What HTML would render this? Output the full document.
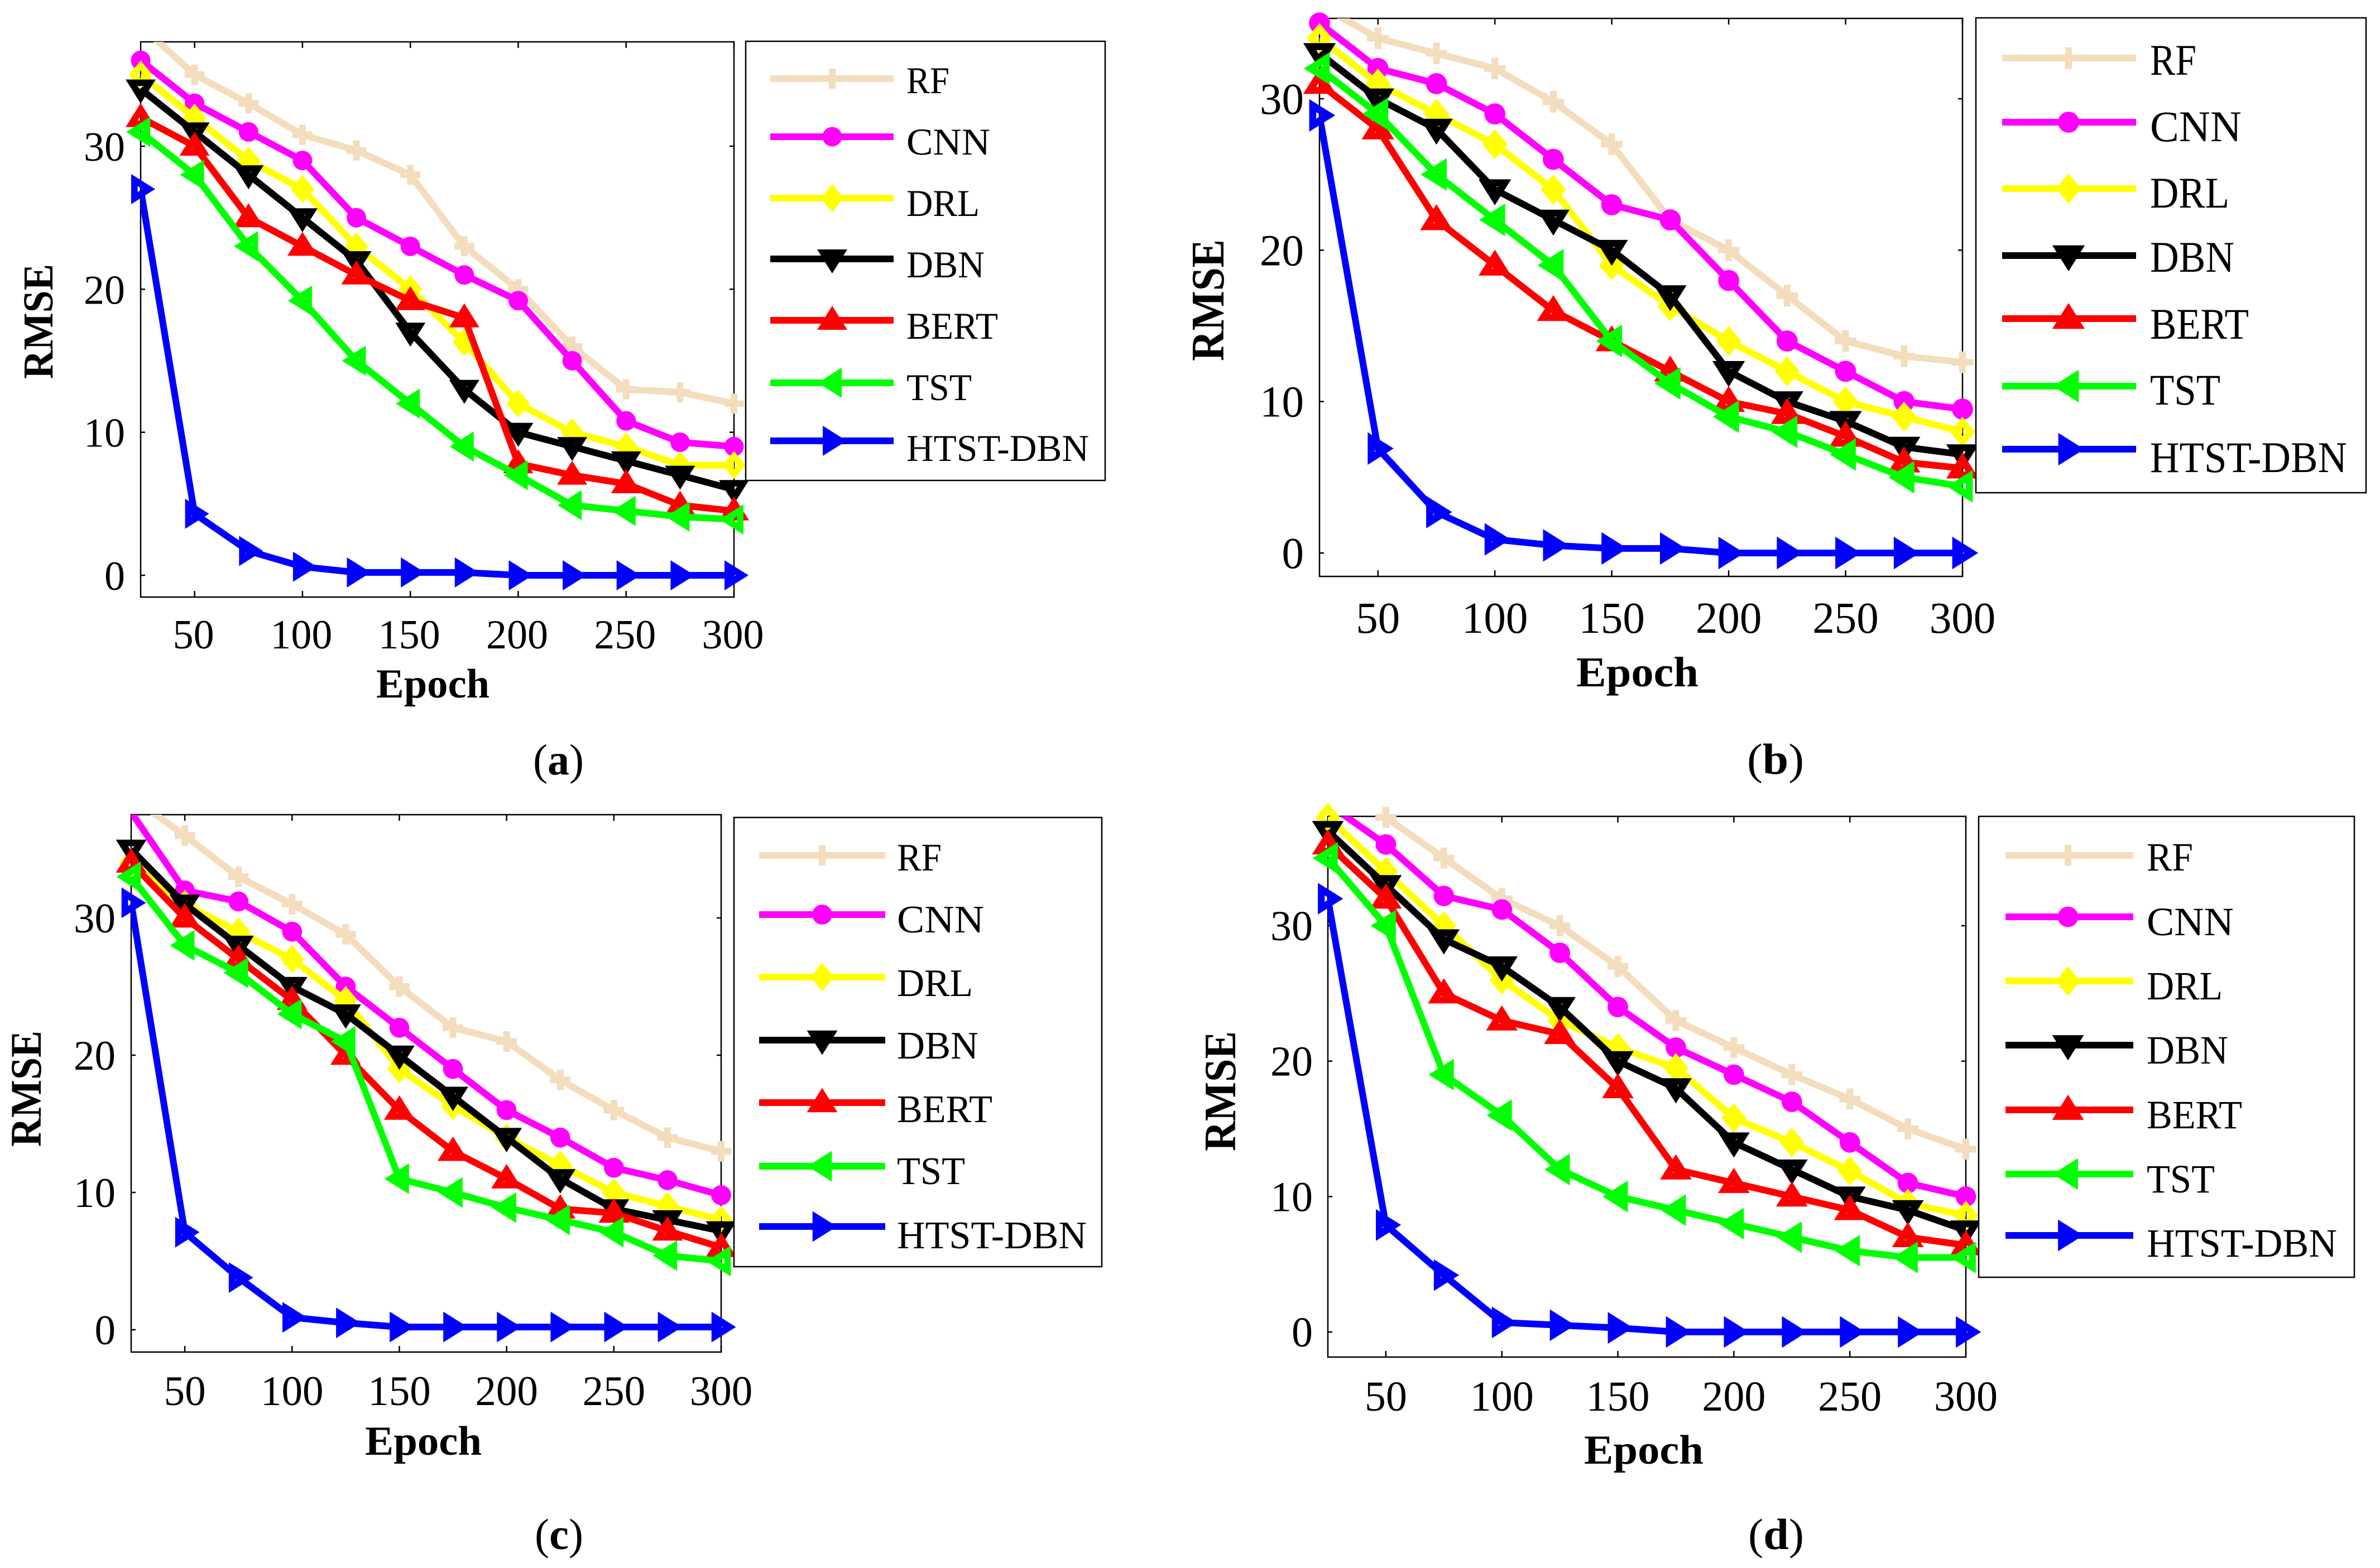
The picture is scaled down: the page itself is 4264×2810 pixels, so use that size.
<!DOCTYPE html>
<html lang="en">
<head>
<meta charset="utf-8">
<title>RMSE versus epoch for four datasets</title>
<style>
html,body{margin:0;padding:0;background:#fff}
svg{display:block}
text{font-family:"Liberation Serif",serif;fill:#000}
.b{font-weight:bold}
</style>
</head>
<body>
<svg id="fig" xmlns="http://www.w3.org/2000/svg" width="4264" height="2810" viewBox="0 0 4264 2810">
<rect x="0" y="0" width="4264" height="2810" fill="#fff"/>

<g id="panel-a">
  <g id="plot-a"></g>
  <text class="b" x="674" y="1250" font-size="74" textLength="203" lengthAdjust="spacingAndGlyphs">Epoch</text>
  <text class="b" transform="translate(94,679) rotate(-90)" font-size="76" textLength="206" lengthAdjust="spacingAndGlyphs">RMSE</text>
  <text x="955" y="1388" font-size="78" textLength="91" lengthAdjust="spacingAndGlyphs">(<tspan class="b">a</tspan>)</text>
  <g id="legend-a">
    <rect x="1336" y="74" width="644" height="787" fill="#fff" stroke="#000" stroke-width="2.5"/>
    <g id="samples-a"></g>
    <g font-size="68">
      <text x="1624" y="167" textLength="77" lengthAdjust="spacingAndGlyphs">RF</text>
      <text x="1624" y="277" textLength="150" lengthAdjust="spacingAndGlyphs">CNN</text>
      <text x="1624" y="387" textLength="131" lengthAdjust="spacingAndGlyphs">DRL</text>
      <text x="1624" y="497" textLength="140" lengthAdjust="spacingAndGlyphs">DBN</text>
      <text x="1624" y="607" textLength="164" lengthAdjust="spacingAndGlyphs">BERT</text>
      <text x="1624" y="717" textLength="117" lengthAdjust="spacingAndGlyphs">TST</text>
      <text x="1624" y="826" textLength="327" lengthAdjust="spacingAndGlyphs">HTST-DBN</text>
    </g>
  </g>
</g>

<g id="panel-b">
  <g id="plot-b"></g>
  <text class="b" x="2824" y="1230" font-size="76" textLength="219" lengthAdjust="spacingAndGlyphs">Epoch</text>
  <text class="b" transform="translate(2192,647) rotate(-90)" font-size="84" textLength="218" lengthAdjust="spacingAndGlyphs">RMSE</text>
  <text x="3130" y="1387" font-size="78" textLength="102" lengthAdjust="spacingAndGlyphs">(<tspan class="b">b</tspan>)</text>
  <g id="legend-b">
    <rect x="3540" y="32" width="699" height="851" fill="#fff" stroke="#000" stroke-width="2.5"/>
    <g id="samples-b"></g>
    <g font-size="78">
      <text x="3852" y="134" textLength="83" lengthAdjust="spacingAndGlyphs">RF</text>
      <text x="3852" y="253" textLength="164" lengthAdjust="spacingAndGlyphs">CNN</text>
      <text x="3852" y="372" textLength="142" lengthAdjust="spacingAndGlyphs">DRL</text>
      <text x="3852" y="487" textLength="151" lengthAdjust="spacingAndGlyphs">DBN</text>
      <text x="3852" y="607" textLength="177" lengthAdjust="spacingAndGlyphs">BERT</text>
      <text x="3852" y="725" textLength="126" lengthAdjust="spacingAndGlyphs">TST</text>
      <text x="3852" y="846" textLength="353" lengthAdjust="spacingAndGlyphs">HTST-DBN</text>
    </g>
  </g>
</g>

<g id="panel-c">
  <g id="plot-c"></g>
  <text class="b" x="654" y="2607" font-size="74" textLength="209" lengthAdjust="spacingAndGlyphs">Epoch</text>
  <text class="b" transform="translate(73,2055) rotate(-90)" font-size="78" textLength="208" lengthAdjust="spacingAndGlyphs">RMSE</text>
  <text x="958" y="2776" font-size="78" textLength="87" lengthAdjust="spacingAndGlyphs">(<tspan class="b">c</tspan>)</text>
  <g id="legend-c">
    <rect x="1315" y="1465" width="659" height="805" fill="#fff" stroke="#000" stroke-width="2.5"/>
    <g id="samples-c"></g>
    <g font-size="70">
      <text x="1607" y="1560" textLength="80" lengthAdjust="spacingAndGlyphs">RF</text>
      <text x="1607" y="1671" textLength="156" lengthAdjust="spacingAndGlyphs">CNN</text>
      <text x="1607" y="1785" textLength="136" lengthAdjust="spacingAndGlyphs">DRL</text>
      <text x="1607" y="1897" textLength="146" lengthAdjust="spacingAndGlyphs">DBN</text>
      <text x="1607" y="2011" textLength="171" lengthAdjust="spacingAndGlyphs">BERT</text>
      <text x="1607" y="2122" textLength="122" lengthAdjust="spacingAndGlyphs">TST</text>
      <text x="1607" y="2237" textLength="340" lengthAdjust="spacingAndGlyphs">HTST-DBN</text>
    </g>
  </g>
</g>

<g id="panel-d">
  <g id="plot-d"></g>
  <text class="b" x="2838" y="2623" font-size="74" textLength="214" lengthAdjust="spacingAndGlyphs">Epoch</text>
  <text class="b" transform="translate(2213,2063) rotate(-90)" font-size="80" textLength="215" lengthAdjust="spacingAndGlyphs">RMSE</text>
  <text x="3132" y="2776" font-size="78" textLength="100" lengthAdjust="spacingAndGlyphs">(<tspan class="b">d</tspan>)</text>
  <g id="legend-d">
    <rect x="3545" y="1463" width="673" height="826" fill="#fff" stroke="#000" stroke-width="2.5"/>
    <g id="samples-d"></g>
    <g font-size="72">
      <text x="3846" y="1560" textLength="83" lengthAdjust="spacingAndGlyphs">RF</text>
      <text x="3846" y="1676" textLength="156" lengthAdjust="spacingAndGlyphs">CNN</text>
      <text x="3846" y="1791" textLength="136" lengthAdjust="spacingAndGlyphs">DRL</text>
      <text x="3846" y="1906" textLength="146" lengthAdjust="spacingAndGlyphs">DBN</text>
      <text x="3846" y="2022" textLength="171" lengthAdjust="spacingAndGlyphs">BERT</text>
      <text x="3846" y="2137" textLength="122" lengthAdjust="spacingAndGlyphs">TST</text>
      <text x="3846" y="2252" textLength="341" lengthAdjust="spacingAndGlyphs">HTST-DBN</text>
    </g>
  </g>
</g>
</svg>

<script>
// ---- data ----
const epochs = [25,50,75,100,125,150,175,200,225,250,275,300];
const xTickLabels = [50,100,150,200,250,300];
const yTickLabels = [0,10,20,30];
const seriesNames = ['rf','cnn','drl','dbn','bert','tst','htst-dbn'];

const rfA   = [38.4,35,33,30.8,29.7,28,23,20,16,13,12.8,12];
const cnnA  = [36,33,31,29,25,23,21,19.2,15,10.8,9.3,9];
const drlA  = [35,32,29,27,23,20,16.3,12,10,9,7.7,7.7];
const dbnA  = [34,31,28,25,22,17,13,10,9,8,7,6];
const bertA = [32,30,25,23,21,19.2,18,7.8,7,6.4,4.9,4.5];
const tstA  = [31,28,23,19.2,15,12,9,7,4.9,4.5,4.1,3.9];
const htstA = [27,4.3,1.7,0.6,0.2,0.2,0.2,0,0,0,0,0];

const rfB   = [36.2,34,33,32,29.8,27,22,20,17,14,13,12.6];
const cnnB  = [35,32,31,29,26,23,22,18,14,12,10,9.5];
const drlB  = [34,31,29,27,24,19,16.3,14,12,10,9,8];
const dbnB  = [33,30,28,24,22,20,17,12,10,8.7,7,6.5];
const bertB = [31,28,22,19,16,14,12,10,9.2,7.7,6,5.6];
const tstB  = [32,29,25,22,19,14,11.2,9,8,6.5,5,4.4];
const htstB = [28.9,6.9,2.7,0.9,0.5,0.3,0.3,0,0,0,0,0];

const rfC   = [38.8,36,33,31,28.8,25,22,21,18.2,16,14,13];
const cnnC  = [37.7,32,31.2,29,25,22,19,16,14,11.8,10.9,9.8];
const drlC  = [34,31,29,27,24,19,16.3,14,12,10,9,8];
const dbnC  = [35,31,28,25,23,20,17,14,11,8.8,8,7.2];
const bertC = [34,30,27,24,20,16,13,11,8.8,8.5,7.2,6];
const tstC  = [33,28,26,23,21,11,10,8.9,8,7.1,5.4,5];
const htstC = [31.1,7.1,3.8,0.9,0.5,0.2,0.2,0.2,0.2,0.2,0.2,0.2];

const rfD   = [40,38,35,32,30,27,23,21,19,17.2,15,13.5];
const cnnD  = [39,36,32.2,31.2,28,24,21,19,17,14,11,10];
const drlD  = [38,34,30,26,23,21,19.5,15.8,14,11.9,9.5,8.6];
const dbnD  = [37,33,29,27,24,20,18,14,12,10,9,7.5];
const bertD = [36,32,25,23,22,18,12,11,10,9,7,6.4];
const tstD  = [35,30,19,16,12,10,9,8,7,6,5.5,5.5];
const htstD = [32,7.9,4.2,0.7,0.5,0.3,0,0,0,0,0,0];

// ---- layout ----
const colors = ['#f3ddbd','#ff00ff','#ffff00','#000000','#ff0000','#00ff00','#0000ff'];
const markerKinds = ['plus','circle','diamond','down','up','left','right'];
const frames = [
  {id:'a', l:252,  r:1315, t:75,   b:1070, y0:1031,  y30:262,  m:1,    fs:74, lx:-2, xBase:1162, yRight:224,  yOff:26, sx0:1380, sx1:1601, sm:1491, rows:[141,245,355,464,574,686,790],  series:[rfA,cnnA,drlA,dbnA,bertA,tstA,htstA]},
  {id:'b', l:2364, r:3516, t:33,   b:1033, y0:991,   y30:177,  m:1.08, fs:79, lx:0,  xBase:1134, yRight:2336, yOff:27, sx0:3587, sx1:3827, sm:3706, rows:[104,219,338,458,571,692,805],  series:[rfB,cnnB,drlB,dbnB,bertB,tstB,htstB]},
  {id:'c', l:235,  r:1292, t:1460, b:2423, y0:2383,  y30:1645, m:1.02, fs:75, lx:0,  xBase:2518, yRight:207,  yOff:26, sx0:1360, sx1:1586, sm:1473, rows:[1533,1639,1751,1864,1976,2090,2198], series:[rfC,cnnC,drlC,dbnC,bertC,tstC,htstC]},
  {id:'d', l:2379, r:3522, t:1463, b:2432, y0:2387,  y30:1659, m:1.05, fs:76, lx:0,  xBase:2528, yRight:2352, yOff:26, sx0:3593, sx1:3822, sm:3705, rows:[1533,1643,1758,1873,1989,2104,2214], series:[rfD,cnnD,drlD,dbnD,bertD,tstD,htstD]}
];
const NS = 'http://www.w3.org/2000/svg';
const LINE_W = 12;

function poly(pts){
  return 'M' + pts.map(p => p[0].toFixed(1) + ' ' + p[1].toFixed(1)).join('L') + 'Z';
}
function withHole(pts, cx, cy, s){
  const hole = pts.map(p => [cx + (p[0]-cx)*s, cy + (p[1]-cy)*s]);
  return poly(pts) + poly(hole);
}
function markerPath(kind, m){
  const w = 27*m, f = 17*m, t = 26*m;
  if (kind === 'plus') {
    const a = 18*m, h = 6;
    return poly([[-h,-a],[h,-a],[h,-h],[a,-h],[a,h],[h,h],[h,a],[-h,a],[-h,h],[-a,h],[-a,-h],[-h,-h]]);
  }
  if (kind === 'circle') {
    const r = 17.5*m;
    return 'M' + (-r) + ' 0A' + r + ' ' + r + ' 0 1 0 ' + r + ' 0A' + r + ' ' + r + ' 0 1 0 ' + (-r) + ' 0Z';
  }
  if (kind === 'diamond') return withHole([[0,-25*m],[21*m,0],[0,25*m],[-21*m,0]], 0, 0, 0.28);
  if (kind === 'down')  return withHole([[-w,-f],[w,-f],[0,t]], 0, -f*0.15, 0.2);
  if (kind === 'up')    return withHole([[-w,f],[w,f],[0,-t]], 0, f*0.15, 0.2);
  if (kind === 'left')  return withHole([[f,-w],[f,w],[-t,0]], f*0.15, 0, 0.2);
  return withHole([[-f,-w],[-f,w],[t,0]], -f*0.15, 0, 0.2);
}
function xScale(fr, v){ return fr.l + (v - epochs[0]) / (epochs[epochs.length-1] - epochs[0]) * (fr.r - fr.l); }
function yScale(fr, v){ return fr.y0 - v * (fr.y0 - fr.y30) / 30; }

const defs = document.createElementNS(NS, 'defs');
document.getElementById('fig').appendChild(defs);

frames.forEach(function(fr){
  const plot = document.getElementById('plot-' + fr.id);

  const cp = document.createElementNS(NS, 'clipPath');
  cp.setAttribute('id', 'clip-' + fr.id);
  const cr = document.createElementNS(NS, 'rect');
  cr.setAttribute('x', fr.l);
  cr.setAttribute('y', fr.t);
  cr.setAttribute('width', fr.r - fr.l);
  cr.setAttribute('height', fr.b - fr.t);
  cp.appendChild(cr);
  defs.appendChild(cp);

  const box = document.createElementNS(NS, 'rect');
  
  
  box.setAttribute('x', fr.l);
  box.setAttribute('y', fr.t);
  box.setAttribute('width', fr.r - fr.l);
  box.setAttribute('height', fr.b - fr.t);
  box.setAttribute('fill', 'none');
  box.setAttribute('stroke', '#000');
  box.setAttribute('stroke-width', '2.5');
  plot.appendChild(box);

  xTickLabels.forEach(function(v){
    const x = xScale(fr, v);
    [[fr.b, fr.b - 11], [fr.t, fr.t + 11]].forEach(function(ends){
      const tk = document.createElementNS(NS, 'line');
      
      
      tk.setAttribute('x1', x);
      tk.setAttribute('x2', x);
      tk.setAttribute('y1', ends[0]);
      tk.setAttribute('y2', ends[1]);
      tk.setAttribute('stroke', '#000');
      tk.setAttribute('stroke-width', '2.5');
      plot.appendChild(tk);
    });
    const lab = document.createElementNS(NS, 'text');
    
    
    lab.setAttribute('x', x + fr.lx);
    lab.setAttribute('y', fr.xBase);
    lab.setAttribute('font-size', fr.fs);
    lab.setAttribute('text-anchor', 'middle');
    lab.textContent = String(v);
    plot.appendChild(lab);
  });

  yTickLabels.forEach(function(v){
    const y = yScale(fr, v);
    [[fr.l, fr.l + 8], [fr.r, fr.r - 8]].forEach(function(ends){
      const tk = document.createElementNS(NS, 'line');
      
      
      tk.setAttribute('x1', ends[0]);
      tk.setAttribute('x2', ends[1]);
      tk.setAttribute('y1', y);
      tk.setAttribute('y2', y);
      tk.setAttribute('stroke', '#000');
      tk.setAttribute('stroke-width', '2.5');
      plot.appendChild(tk);
    });
    const lab = document.createElementNS(NS, 'text');
    
    
    lab.setAttribute('x', fr.yRight);
    lab.setAttribute('y', y + fr.yOff);
    lab.setAttribute('font-size', fr.fs);
    lab.setAttribute('text-anchor', 'end');
    lab.textContent = String(v);
    plot.appendChild(lab);
  });

  fr.series.forEach(function(values, si){
    const group = document.createElementNS(NS, 'g');
    
    

    const line = document.createElementNS(NS, 'polyline');
    
    
    line.setAttribute('points', values.map(function(v, i){ return xScale(fr, epochs[i]).toFixed(1) + ',' + yScale(fr, v).toFixed(1); }).join(' '));
    line.setAttribute('fill', 'none');
    line.setAttribute('stroke', colors[si]);
    line.setAttribute('stroke-width', LINE_W);
    line.setAttribute('stroke-linejoin', 'miter');
    line.setAttribute('clip-path', 'url(#clip-' + fr.id + ')');
    group.appendChild(line);

    values.forEach(function(v, i){
      const py = yScale(fr, v);
      if (py < fr.t - 1 || py > fr.b) return;
      const mk = document.createElementNS(NS, 'path');
      
      
      mk.setAttribute('d', markerPath(markerKinds[si], fr.m));
      mk.setAttribute('fill', colors[si]);
      mk.setAttribute('fill-rule', 'evenodd');
      mk.setAttribute('transform', 'translate(' + xScale(fr, epochs[i]).toFixed(1) + ',' + py.toFixed(1) + ')');
      group.appendChild(mk);
    });
    plot.appendChild(group);
  });

  const samples = document.getElementById('samples-' + fr.id);
  fr.rows.forEach(function(rowY, si){
    const sl = document.createElementNS(NS, 'line');
    
    
    sl.setAttribute('x1', fr.sx0);
    sl.setAttribute('x2', fr.sx1);
    sl.setAttribute('y1', rowY);
    sl.setAttribute('y2', rowY);
    sl.setAttribute('stroke', colors[si]);
    sl.setAttribute('stroke-width', LINE_W);
    samples.appendChild(sl);
    const sm = document.createElementNS(NS, 'path');
    
    
    sm.setAttribute('d', markerPath(markerKinds[si], fr.m));
    sm.setAttribute('fill', colors[si]);
    sm.setAttribute('transform', 'translate(' + fr.sm + ',' + rowY + ')');
    samples.appendChild(sm);
  });
});
</script>
</body>
</html>
